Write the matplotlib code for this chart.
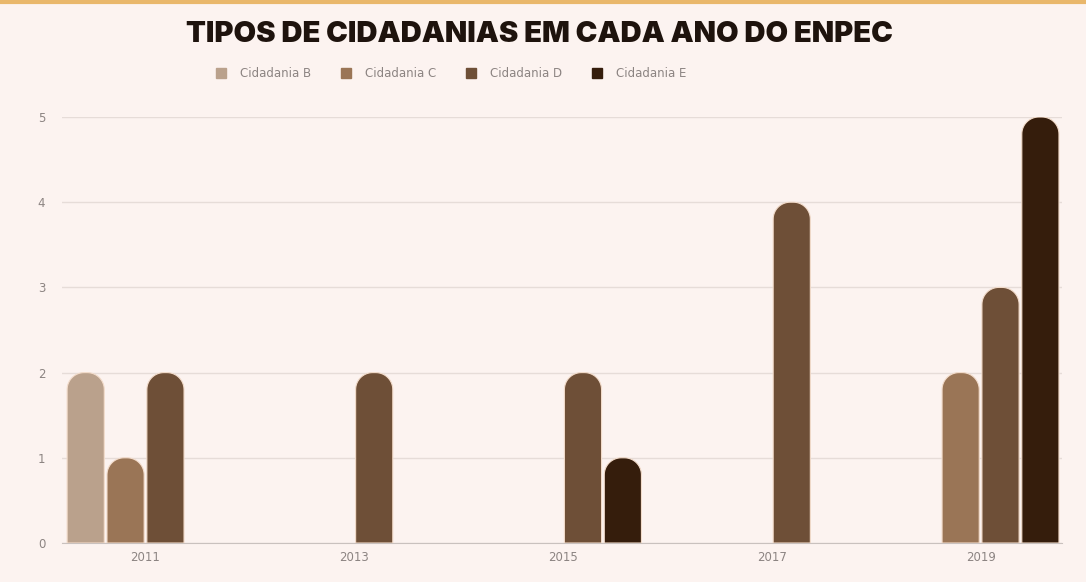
import numpy as np
import matplotlib.pyplot as plt
from matplotlib.patches import PathPatch
from matplotlib.path import Path
from matplotlib.lines import Line2D

years = ["2011", "2013", "2015", "2017", "2019"]
series = ["Cidadania B", "Cidadania C", "Cidadania D", "Cidadania E"]
cid_b = [2, 0, 0, 0, 0]
cid_c = [1, 0, 0, 0, 2]
cid_d = [2, 2, 2, 4, 3]
cid_e = [0, 0, 1, 0, 5]
colors = ["#BAA18C", "#9A7556", "#6E4F37", "#351D0C"]

bg = "#FCF3F0"
grey = "#8C8482"

fig = plt.figure(figsize=(10.86, 5.82), dpi=100, facecolor=bg)
ax = fig.add_axes([62 / 1086, 39 / 582, 1000 / 1086, 426 / 582], facecolor=bg)
ax.set_xlim(-0.40, 4.39)
ax.set_ylim(0, 5)

px_x = 1000 / (4.39 + 0.40)
px_y = 426 / 5
r_px = 17
rx = r_px / px_x
ry = r_px / px_y


def rounded_top(x0, w, h):
    # bar outline with elliptical (round on screen) top corners
    t1 = np.linspace(np.pi, np.pi / 2, 16)
    t2 = np.linspace(np.pi / 2, 0, 16)
    left = np.column_stack([x0 + rx + rx * np.cos(t1), h - ry + ry * np.sin(t1)])
    right = np.column_stack([x0 + w - rx + rx * np.cos(t2), h - ry + ry * np.sin(t2)])
    verts = np.vstack([[x0, 0], left, right, [x0 + w, 0], [x0, 0]])
    codes = [Path.MOVETO] + [Path.LINETO] * (len(verts) - 2) + [Path.CLOSEPOLY]
    return Path(verts, codes)


x = np.arange(len(years))
slot = 0.191
width = 0.178
for i, (vals, name) in enumerate(zip([cid_b, cid_c, cid_d, cid_e], series)):
    bars = ax.bar(x + (i - 1.5) * slot, vals, width, color=colors[i], label=name)
    for rect in bars:
        h = rect.get_height()
        rect.set_visible(False)
        if h <= 0:
            continue
        p = PathPatch(rounded_top(rect.get_x(), rect.get_width(), h),
                      facecolor=colors[i], edgecolor="#F3DCCB", linewidth=0.8,
                      zorder=3)
        ax.add_patch(p)

ax.set_yticks(range(0, 6))
ax.grid(axis="y", color="#E6DCD8", linewidth=1, zorder=0)
ax.set_axisbelow(True)
for s in ["top", "right", "left"]:
    ax.spines[s].set_visible(False)
ax.spines["bottom"].set_color("#C9C1BE")
ax.set_xticks(x)
ax.set_xticklabels(years)
ax.tick_params(axis="both", length=0, colors=grey, labelsize=8.5)
ax.tick_params(axis="y", pad=12)
ax.tick_params(axis="x", pad=6)

handles = [Line2D([], [], marker="s", linestyle="none", markersize=7,
                  color=c) for c in colors]
fig.legend(handles, series, loc="center left", bbox_to_anchor=(199 / 1086, 1 - 74 / 582),
           ncol=4, frameon=False, fontsize=8.5, labelcolor=grey,
           handletextpad=0.6, columnspacing=1.95)

fig.text(0.497, 1 - 34 / 582, "TIPOS DE CIDADANIAS EM CADA ANO DO ENPEC",
         ha="center", va="center", fontsize=21, fontweight="black",
         family=["Inter", "DejaVu Sans"], color="#1E130D")

fig.add_artist(Line2D([0, 1], [1 - 1.5 / 582, 1 - 1.5 / 582], color="#E9B76B",
                      linewidth=3, transform=fig.transFigure))

fig.savefig("out.png", dpi=100, facecolor=bg)
